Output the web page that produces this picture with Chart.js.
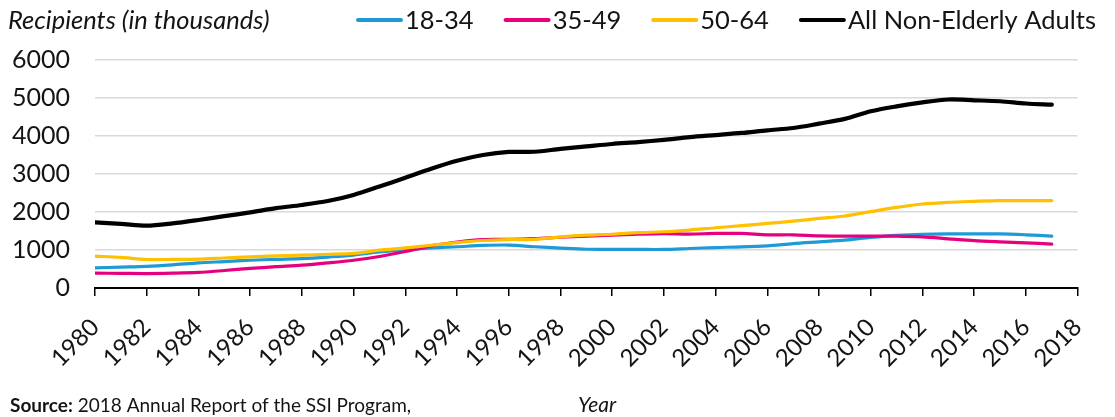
<!DOCTYPE html>
<html>
<head>
<meta charset="utf-8">
<title>SSI recipients by age group</title>
<script src="https://cdn.jsdelivr.net/npm/chart.js@4.4.1/dist/chart.umd.min.js"></script>
<style>
  html, body { margin: 0; padding: 0; background: #ffffff; }
  #wrap { width: 1115px; height: 417px; position: relative; }
</style>
</head>
<body>
<div id="wrap"><canvas id="chart" width="1115" height="417"></canvas></div>
<script>
// Non-elderly SSI recipients (thousands), 1980-2017
const years = [1980, 1981, 1982, 1983, 1984, 1985, 1986, 1987, 1988, 1989,
               1990, 1991, 1992, 1993, 1994, 1995, 1996, 1997, 1998, 1999,
               2000, 2001, 2002, 2003, 2004, 2005, 2006, 2007, 2008, 2009,
               2010, 2011, 2012, 2013, 2014, 2015, 2016, 2017];

const age18to34 = [530, 550, 570, 610, 660, 695, 730, 755, 775, 815,
                   865, 950, 1000, 1055, 1085, 1120, 1130, 1085, 1050, 1020,
                   1015, 1015, 1015, 1040, 1065, 1080, 1110, 1170, 1215, 1260,
                   1330, 1385, 1415, 1425, 1425, 1425, 1400, 1365];

const age35to49 = [390, 385, 380, 390, 410, 460, 515, 560, 600, 660,
                   730, 830, 960, 1110, 1210, 1275, 1280, 1300, 1335, 1365,
                   1390, 1415, 1430, 1420, 1435, 1435, 1400, 1400, 1370, 1365,
                   1365, 1365, 1345, 1295, 1245, 1215, 1190, 1155];

const age50to64 = [840, 805, 750, 752, 758, 790, 820, 845, 865, 885,
                   910, 995, 1055, 1125, 1195, 1250, 1275, 1280, 1345, 1390,
                   1415, 1455, 1480, 1525, 1585, 1640, 1700, 1760, 1830, 1895,
                   2010, 2120, 2210, 2255, 2280, 2300, 2300, 2300];

const allNonElderly = [1728, 1690, 1640, 1700, 1790, 1890, 1990, 2100, 2185, 2290,
                       2450, 2670, 2900, 3140, 3350, 3500, 3580, 3585, 3660, 3725,
                       3790, 3840, 3900, 3970, 4025, 4080, 4150, 4210, 4325, 4450,
                       4650, 4780, 4885, 4960, 4940, 4915, 4855, 4825];

const seriesNames = ['18-34', '35-49', '50-64', 'All Non-Elderly Adults'];

const xTickYears = [1980, 1982, 1984, 1986, 1988, 1990, 1992, 1994, 1996, 1998,
                    2000, 2002, 2004, 2006, 2008, 2010, 2012, 2014, 2016, 2018];
const yTickValues = [0, 1000, 2000, 3000, 4000, 5000, 6000];

const yAxisTitle = 'Recipients (in thousands)';
const xAxisTitle = 'Year';
const sourceLead = 'Source:';
const sourceText = ' 2018 Annual Report of the SSI Program,';

const FONT = 'Lato, "Open Sans", sans-serif';
const TEXT = '#141414';

function points(values) {
  return years.map((yr, i) => ({ x: yr, y: values[i] }));
}

function lineSet(label, values, color, width, order) {
  return {
    label,
    data: points(values),
    borderColor: color,
    backgroundColor: color,
    borderWidth: width,
    pointRadius: 0,
    pointHoverRadius: 0,
    tension: 0.3,
    borderCapStyle: 'round',
    borderJoinStyle: 'round',
    fill: false,
    order
  };
}

// Titles, legend and source line drawn onto the same canvas
const chartText = {
  id: 'chartText',
  afterDraw(chart) {
    const ctx = chart.ctx;
    ctx.save();
    ctx.fillStyle = TEXT;
    ctx.textBaseline = 'middle';
    ctx.textAlign = 'left';

    ctx.font = 'italic 25.5px ' + FONT;
    ctx.fillText(yAxisTitle, 8, 21);

    // legend: line sample followed by its label
    let x = 357;
    const y = 20;
    ctx.font = '25.5px ' + FONT;
    chart.data.datasets.forEach(ds => {
      ctx.strokeStyle = ds.borderColor;
      ctx.lineWidth = 4;
      ctx.lineCap = 'round';
      ctx.beginPath();
      ctx.moveTo(x + 1, y);
      ctx.lineTo(x + 44, y);
      ctx.stroke();
      ctx.fillText(ds.label, x + 48, y + 1);
      x += 48 + ctx.measureText(ds.label).width + 31;
    });

    // source note and x-axis title
    ctx.textBaseline = 'alphabetic';
    ctx.font = 'bold 19px ' + FONT;
    ctx.fillText(sourceLead, 10, 412);
    const w = ctx.measureText(sourceLead).width;
    ctx.font = '19px ' + FONT;
    ctx.fillText(sourceText, 10 + w, 412);

    ctx.font = 'italic 21px ' + FONT;
    ctx.fillText(xAxisTitle, 578, 412);
    ctx.restore();
  }
};

new Chart(document.getElementById('chart'), {
  type: 'line',
  data: {
    datasets: [
      lineSet(seriesNames[0], age18to34, '#1f9ad6', 3.2, 3),
      lineSet(seriesNames[1], age35to49, '#e6007e', 3.2, 2),
      lineSet(seriesNames[2], age50to64, '#ffc000', 3.2, 1),
      lineSet(seriesNames[3], allNonElderly, '#000000', 4.2, 0)
    ]
  },
  options: {
    responsive: false,
    animation: false,
    devicePixelRatio: 1,
    layout: { padding: { top: 60, right: 11, left: 0, bottom: 0 } },
    plugins: {
      legend: { display: false },
      title: { display: false },
      tooltip: { enabled: false }
    },
    scales: {
      x: {
        type: 'linear',
        min: 1980,
        max: 2018,
        afterBuildTicks(scale) {
          scale.ticks = xTickYears.map(v => ({ value: v }));
        },
        afterFit(scale) { scale.height = 129; },
        ticks: {
          autoSkip: false,
          minRotation: 45,
          maxRotation: 45,
          padding: 17,
          color: TEXT,
          font: { family: FONT, size: 24 },
          callback: v => String(v)
        },
        grid: {
          drawOnChartArea: false,
          drawTicks: true,
          tickLength: 8,
          color: '#000000',
          lineWidth: 1.5
        },
        border: { display: true, color: '#000000', width: 2 }
      },
      y: {
        min: 0,
        max: 6000,
        afterBuildTicks(scale) {
          scale.ticks = yTickValues.map(v => ({ value: v }));
        },
        afterFit(scale) { scale.width = 95; },
        ticks: {
          padding: 25,
          color: TEXT,
          font: { family: FONT, size: 25 },
          callback: v => String(v)
        },
        grid: {
          color: '#d9d9d9',
          lineWidth: 1.5,
          drawTicks: false
        },
        border: { display: false }
      }
    }
  },
  plugins: [chartText]
});
</script>
</body>
</html>
